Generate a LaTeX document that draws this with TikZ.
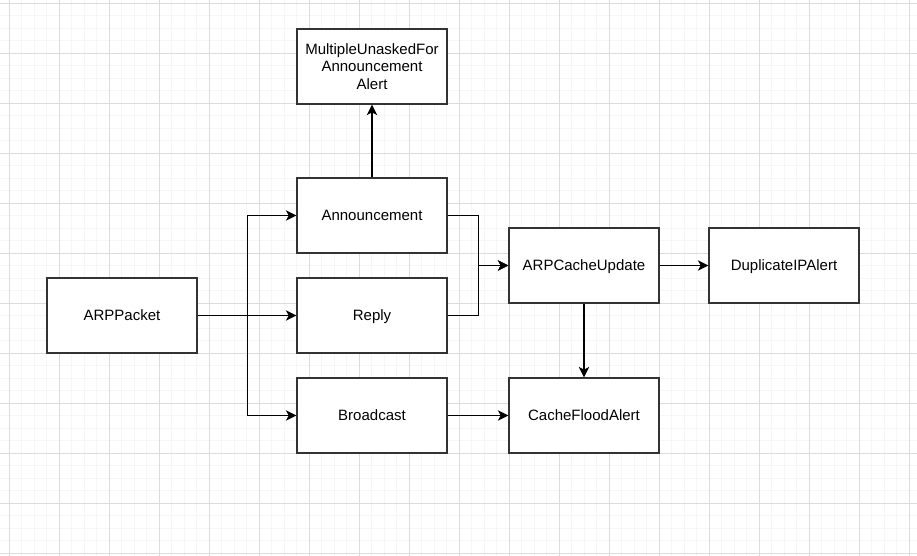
\documentclass[tikz,border=0pt]{standalone}
\usepackage{fontspec}
\setmainfont{Liberation Sans}
\usetikzlibrary{arrows.meta}

\definecolor{gridminor}{HTML}{F6F6F6}
\definecolor{gridmajor}{HTML}{DCDCDC}
\definecolor{edgegray}{HTML}{333333}

\begin{document}
\begin{tikzpicture}[x=1pt, y=-1pt,
    box/.style={draw=edgegray, line width=1.25pt, fill=white, minimum width=150pt,
        minimum height=75pt, align=center, text height=14pt, text depth=3.3pt,
        font=\fontsize{15}{17.5}\selectfont},
    link/.style={draw=black, line width=1.3pt, -{Stealth[length=10.5pt,width=10.5pt,inset=2.8pt]}}]
    \useasboundingbox (0,0) rectangle (917,556);
    \fill[white] (0,0) rectangle (917,556);
    % grid
    \foreach \i in {0,...,74} \draw[gridminor, line width=1pt] ({-3.2+12.5*\i},0) -- ++(0,556);
    \foreach \i in {0,...,45} \draw[gridminor, line width=1pt] (0,{-9.2+12.5*\i}) -- ++(917,0);
    \foreach \i in {0,...,18} \draw[gridmajor, line width=1pt] ({9.3+50*\i},0) -- ++(0,556);
    \foreach \i in {0,...,11} \draw[gridmajor, line width=1pt] (0,{3.3+50*\i}) -- ++(917,0);
    % boxes
    \node[box] (packet) at (122,315.5) {ARPPacket};
    \node[box] (announce) at (372,215.5) {Announcement};
    \node[box] (reply) at (372,315.5) {Reply};
    \node[box] (broadcast) at (372,415.5) {Broadcast};
    \node[box, text height={}, text depth={}] (multi) at (372,66.5) {MultipleUnaskedFor\\Announcement\\Alert};
    \node[box] (cacheupd) at (584,265.5) {ARPCacheUpdate};
    \node[box] (dupip) at (784,265.5) {DuplicateIPAlert};
    \node[box] (flood) at (584,415.5) {CacheFloodAlert};
    % connectors
    \draw[link] (packet.east) -- (reply.west);
    \draw[link] (packet.east) -- ++(50,0) |- (announce.west);
    \draw[link] (packet.east) -- ++(50,0) |- (broadcast.west);
    \draw[link] (announce.north) -- (multi.south);
    \draw[link] (announce.east) -- ++(31,0) |- (cacheupd.west);
    \draw[link] (reply.east) -- ++(31,0) |- (cacheupd.west);
    \draw[link] (cacheupd.east) -- (dupip.west);
    \draw[link] (cacheupd.south) -- (flood.north);
    \draw[link] (broadcast.east) -- (flood.west);
\end{tikzpicture}
\end{document}
